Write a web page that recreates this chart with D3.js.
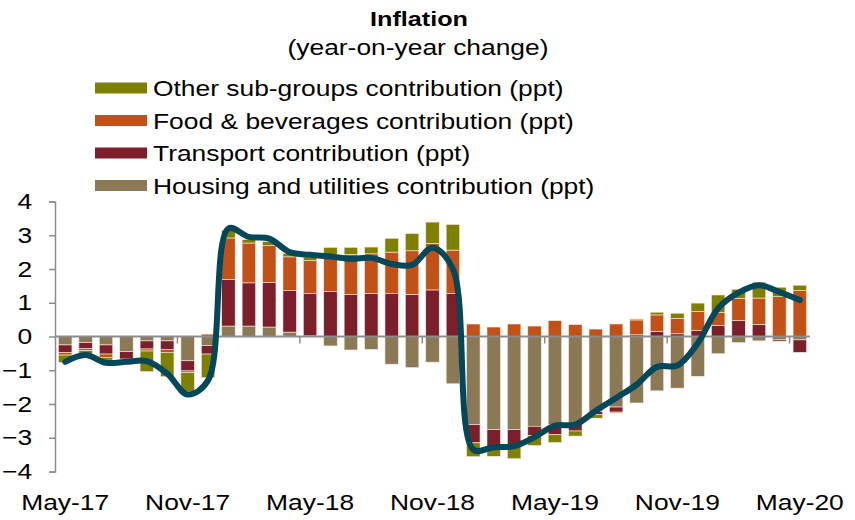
<!DOCTYPE html>
<html>
<head>
<meta charset="utf-8">
<script src="https://cdn.jsdelivr.net/npm/d3@7"></script>
<style>
  body { margin: 0; background: #fff; }
  svg { display: block; font-family: "Liberation Sans", Arial, sans-serif; }
</style>
</head>
<body>
<svg id="chart" width="855" height="520"></svg>
<script>
var months = ["May-17","Jun-17","Jul-17","Aug-17","Sep-17","Oct-17","Nov-17","Dec-17",
  "Jan-18","Feb-18","Mar-18","Apr-18","May-18","Jun-18","Jul-18","Aug-18","Sep-18","Oct-18","Nov-18","Dec-18",
  "Jan-19","Feb-19","Mar-19","Apr-19","May-19","Jun-19","Jul-19","Aug-19","Sep-19","Oct-19","Nov-19","Dec-19",
  "Jan-20","Feb-20","Mar-20","Apr-20","May-20"];

var housing = [-0.25,-0.18,-0.25,-0.45,-0.13,-0.13,-0.72,-0.27,
  0.31,0.31,0.28,0.13,0.02,-0.28,-0.40,-0.38,-0.82,-0.92,-0.76,-1.40,
  -2.61,-2.76,-2.76,-2.66,-2.61,-2.58,-2.22,-2.09,-1.97,-1.61,-1.53,-1.18,
  -0.51,-0.18,-0.13,-0.10,-0.10];
var transport = [-0.22,-0.17,-0.27,-0.22,-0.24,-0.25,-0.30,-0.25,
  1.38,1.28,1.32,1.23,1.26,1.33,1.25,1.27,1.27,1.25,1.38,1.27,
  -0.54,-0.56,-0.49,-0.28,-0.30,-0.22,-0.10,-0.15,0.05,0.15,0.08,0.18,
  0.33,0.47,0.36,-0.04,-0.37];
var food = [-0.08,-0.07,-0.10,0.00,-0.06,-0.09,-0.05,0.07,
  1.23,1.18,1.09,1.00,0.97,1.09,1.18,1.18,1.23,1.29,1.38,1.29,
  0.37,0.28,0.37,0.31,0.47,0.35,0.22,0.37,0.44,0.49,0.46,0.56,
  0.38,0.66,0.78,1.18,1.36];
var other = [-0.22,-0.08,-0.08,-0.02,-0.61,-0.72,-0.56,-0.70,
  0.23,0.10,0.12,0.10,0.10,0.22,0.21,0.20,0.41,0.51,0.63,0.76,
  -0.41,-0.23,-0.37,-0.29,-0.23,-0.15,-0.10,-0.03,0.03,0.08,0.15,0.25,
  0.52,0.27,0.47,0.28,0.16];
var inflation = [-0.75,-0.55,-0.78,-0.75,-0.73,-1.10,-1.72,-1.30,
  3.20,2.95,2.90,2.50,2.42,2.37,2.30,2.33,2.15,2.12,2.63,2.00,
  -3.35,-3.28,-3.25,-2.98,-2.64,-2.61,-2.20,-1.82,-1.43,-0.90,-0.86,-0.20,
  0.84,1.30,1.52,1.32,1.08];

var yTicks = [-4,-3,-2,-1,0,1,2,3,4];
var seriesNames = ["Housing and utilities contribution (ppt)", "Transport contribution (ppt)",
  "Food & beverages contribution (ppt)", "Other sub-groups contribution (ppt)"];
var seriesKeys = ["housing", "transport", "food", "other"];
var colors = ["#8b7855", "#7c1f2a", "#c25118", "#7f7f00"];

var SX = 1.2; // text in the picture is stretched sideways

var svg = d3.select("#chart");

var rows = months.map(function(m, i) {
  return {month: m, housing: housing[i], transport: transport[i], food: food[i], other: other[i]};
});

var x = d3.scaleBand()
    .domain(months)
    .range([55, 810])
    .paddingInner(0.34)
    .paddingOuter(0.17);

var y = d3.scaleLinear()
    .domain([-4, 4])
    .range([471.5, 201.5]);

var z = d3.scaleOrdinal().domain(seriesKeys).range(colors);

var stacked = d3.stack()
    .keys(seriesKeys)
    .offset(d3.stackOffsetDiverging)(rows);

/* titel */
function label(x0, y0, txt, anchor, size, weight) {
  return svg.append("text")
      .attr("transform", "translate(" + x0 + "," + y0 + ") scale(" + SX + ",1)")
      .attr("text-anchor", anchor)
      .attr("font-size", size)
      .attr("font-weight", weight || "normal")
      .attr("fill", "#000")
      .text(txt);
}
label(419, 26, "Inflation", "middle", 21, "bold");
label(418, 55, "(year-on-year change)", "middle", 22);

/* legenda */
var legend = svg.append("g");
seriesNames.slice().reverse().forEach(function(name, i) {
  var key = seriesKeys[seriesKeys.length - 1 - i];
  var cy = 88 + i * 32.5;
  legend.append("rect")
      .attr("x", 95).attr("y", cy - 5.5)
      .attr("width", 52).attr("height", 11)
      .attr("fill", z(key));
  label(153, cy + 8, name, "start", 22);
});

/* balken */
svg.append("g")
  .selectAll("g")
  .data(stacked)
  .enter().append("g")
    .attr("fill", function(d) { return z(d.key); })
  .selectAll("rect")
  .data(function(d) { return d; })
  .enter().append("rect")
    .attr("x", function(d) { return x(d.data.month); })
    .attr("y", function(d) { return y(Math.max(d[0], d[1])); })
    .attr("width", x.bandwidth())
    .attr("height", function(d) { return Math.abs(y(d[0]) - y(d[1])); })
    .attr("stroke", "#f4ece0")
    .attr("stroke-width", 0.6);

/* Y as */
var yAxis = svg.append("g")
    .attr("transform", "translate(55,0)")
    .call(d3.axisLeft(y).tickValues(yTicks).tickSize(6).tickPadding(13).tickFormat(d3.format("d")));
yAxis.select(".domain").attr("stroke", "#8c8c8c").attr("stroke-width", 1.5);
yAxis.selectAll(".tick line").attr("stroke", "#8c8c8c").attr("stroke-width", 1.5);
yAxis.selectAll(".tick text")
    .attr("font-size", 22)
    .attr("font-family", "Liberation Sans, Arial, sans-serif")
    .attr("fill", "#000")
    .attr("transform", "scale(" + SX + ",1)");

/* X as (nullijn + streepjes op grenzen) */
var step = x.step();
var x0 = x.range()[0];
svg.append("line")
    .attr("x1", x0).attr("x2", x.range()[1])
    .attr("y1", y(0)).attr("y2", y(0))
    .attr("stroke", "#8c8c8c").attr("stroke-width", 2);
svg.append("g")
  .selectAll("line")
  .data(d3.range(6, months.length, 6))
  .enter().append("line")
    .attr("x1", function(i) { return x0 + i * step; })
    .attr("x2", function(i) { return x0 + i * step; })
    .attr("y1", y(0)).attr("y2", y(0) + 7)
    .attr("stroke", "#8c8c8c").attr("stroke-width", 1.5);

svg.append("g")
  .selectAll("text")
  .data(months.filter(function(m, i) { return i % 6 === 0; }))
  .enter().append("text")
    .attr("transform", function(m) {
      return "translate(" + (x(m) + x.bandwidth() / 2) + ",510) scale(" + SX + ",1)";
    })
    .attr("text-anchor", "middle")
    .attr("font-size", 22)
    .attr("fill", "#000")
    .text(function(m) { return m; });

/* inflatielijn */
var line = d3.line()
    .x(function(d, i) { return x(months[i]) + x.bandwidth() / 2; })
    .y(function(d) { return y(d); })
    .curve(d3.curveCatmullRom.alpha(0.5));

svg.append("path")
    .datum(inflation)
    .attr("fill", "none")
    .attr("stroke", "#03475a")
    .attr("stroke-width", 6)
    .attr("stroke-linecap", "round")
    .attr("stroke-linejoin", "round")
    .attr("d", line);
</script>
</body>
</html>
